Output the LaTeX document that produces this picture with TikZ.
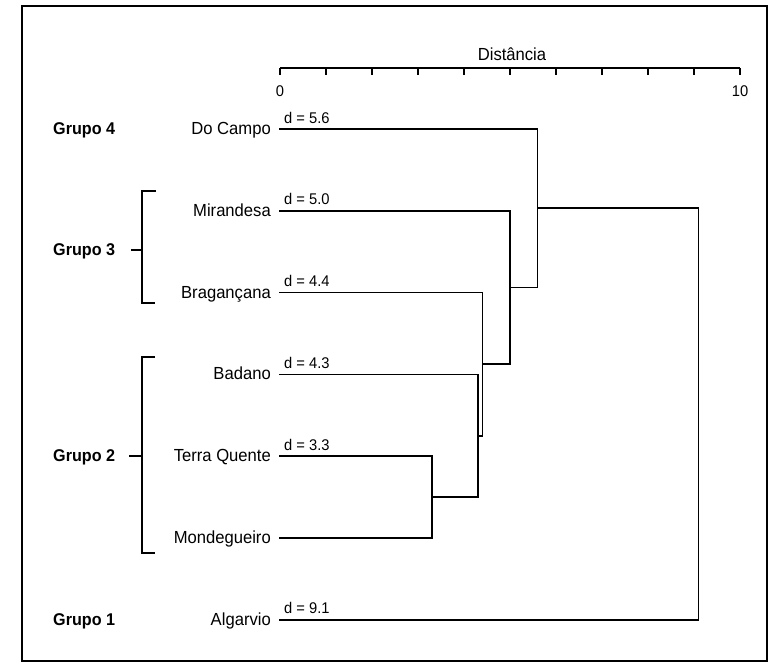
\documentclass[tikz,border=0pt]{standalone}
\usepackage{fontspec}
\setmainfont{Liberation Sans}[FakeStretch=0.95]
\begin{document}
\begin{tikzpicture}[x=1pt,y=-1pt,
  link/.style={line width=1.5pt, line cap=rect},
  leaf/.style={anchor=base east, inner sep=0pt, font=\fontsize{17.5}{19}\selectfont},
  grp/.style={anchor=base west, inner sep=0pt, font=\bfseries\fontsize{17}{19}\selectfont},
  dlab/.style={anchor=base west, inner sep=0pt, font=\fontsize{15.5}{17}\selectfont},
  ticklab/.style={anchor=center, inner sep=0pt, font=\fontsize{15.5}{17}\selectfont},
  brk/.style={line width=1.6pt}]
\useasboundingbox (0,0) rectangle (769,664);
\draw[line width=1.2pt] (22,6) rectangle (767,661);

% axis
\node[anchor=base, inner sep=0pt, font=\fontsize{17.5}{19}\selectfont] (title) at (512,60) {Distância};
\coordinate (a0) at (280,68);
\coordinate (a10) at (740,68);
\draw[line width=1.2pt] (a0) -- (a10);
\foreach \i in {0,...,10} {
  \draw[line width=1.2pt] (280+46*\i,68) -- (280+46*\i,75);
}
\node[ticklab] (l0) at (280,91) {0};
\node[ticklab] (l10) at (740,91) {10};

% leaves
\node[leaf] (doc) at (271,134.5) {Do Campo};
\node[leaf] (mir) at (271,216.3) {Mirandesa};
\node[leaf] (bra) at (271,298.1) {Bragançana};
\node[leaf] (bad) at (271,379.9) {Badano};
\node[leaf] (tq)  at (271,461.7) {Terra Quente};
\node[leaf] (mon) at (271,543.5) {Mondegueiro};
\node[leaf] (alg) at (271,625.3) {Algarvio};

\coordinate (sdoc) at (280,129);
\coordinate (smir) at (280,210.8);
\coordinate (sbra) at (280,292.6);
\coordinate (sbad) at (280,374.4);
\coordinate (stq)  at (280,456.2);
\coordinate (smon) at (280,538);
\coordinate (salg) at (280,619.8);

% distance labels
\node[dlab] (ddoc) at (284,123) {d = 5.6};
\node[dlab] (dmir) at (284,204.8) {d = 5.0};
\node[dlab] (dbra) at (284,286.6) {d = 4.4};
\node[dlab] (dbad) at (284,368.4) {d = 4.3};
\node[dlab] (dtq)  at (284,450.2) {d = 3.3};
\node[dlab] (dalg) at (284,613.8) {d = 9.1};

% merge points
\coordinate (m1) at (431.8,497.1);   % TQ + Mon
\coordinate (m2) at (477.8,435.8);   % Badano + m1
\coordinate (m3) at (482.4,364.2);   % Brag + m2
\coordinate (m4) at (510,287.5);     % Mir + m3
\coordinate (m5) at (537.6,208.2);   % DoC + m4
\coordinate (m6) at (698.6,414);     % Alg + m5

% dendrogram
\draw[link] (stq) -| (m1) |- (smon);
\draw[link] (m1) -- (m1 -| m2);
\draw[link] (sbad) -| (m2) |- (m1);
\draw[link] (m2) -- (m2 -| m3);
\draw[link] (sbra) -| (m3) |- (m2);
\draw[link] (m3) -- (m3 -| m4);
\draw[link] (smir) -| (m4) |- (m3);
\draw[link] (m4) -- (m4 -| m5);
\draw[link] (sdoc) -| (m5) |- (m4);
\draw[link] (m5) -- (m5 -| m6);
\draw[link] (m5 -| m6) -- (m6) |- (salg);
\draw[line width=2.2pt] (salg) -- (salg -| m6);

% groups
\node[grp] (g4) at (53,134.5) {Grupo 4};
\node[grp] (g3) at (53,255.5) {Grupo 3};
\node[grp] (g2) at (53,461.7) {Grupo 2};
\node[grp] (g1) at (53,625.3) {Grupo 1};

\coordinate (b3t) at (156,191);
\coordinate (b3b) at (155,303);
\coordinate (b3m) at (131,250);
\draw[brk] (b3t) -- (142,191) -- (142,303) -- (b3b);
\draw[brk] (b3m) -- (142,250);

\coordinate (b2t) at (155,357);
\coordinate (b2b) at (155,553);
\coordinate (b2m) at (129,456);
\draw[brk] (b2t) -- (142,357) -- (142,553) -- (b2b);
\draw[brk] (b2m) -- (142,456);
\end{tikzpicture}
\end{document}
